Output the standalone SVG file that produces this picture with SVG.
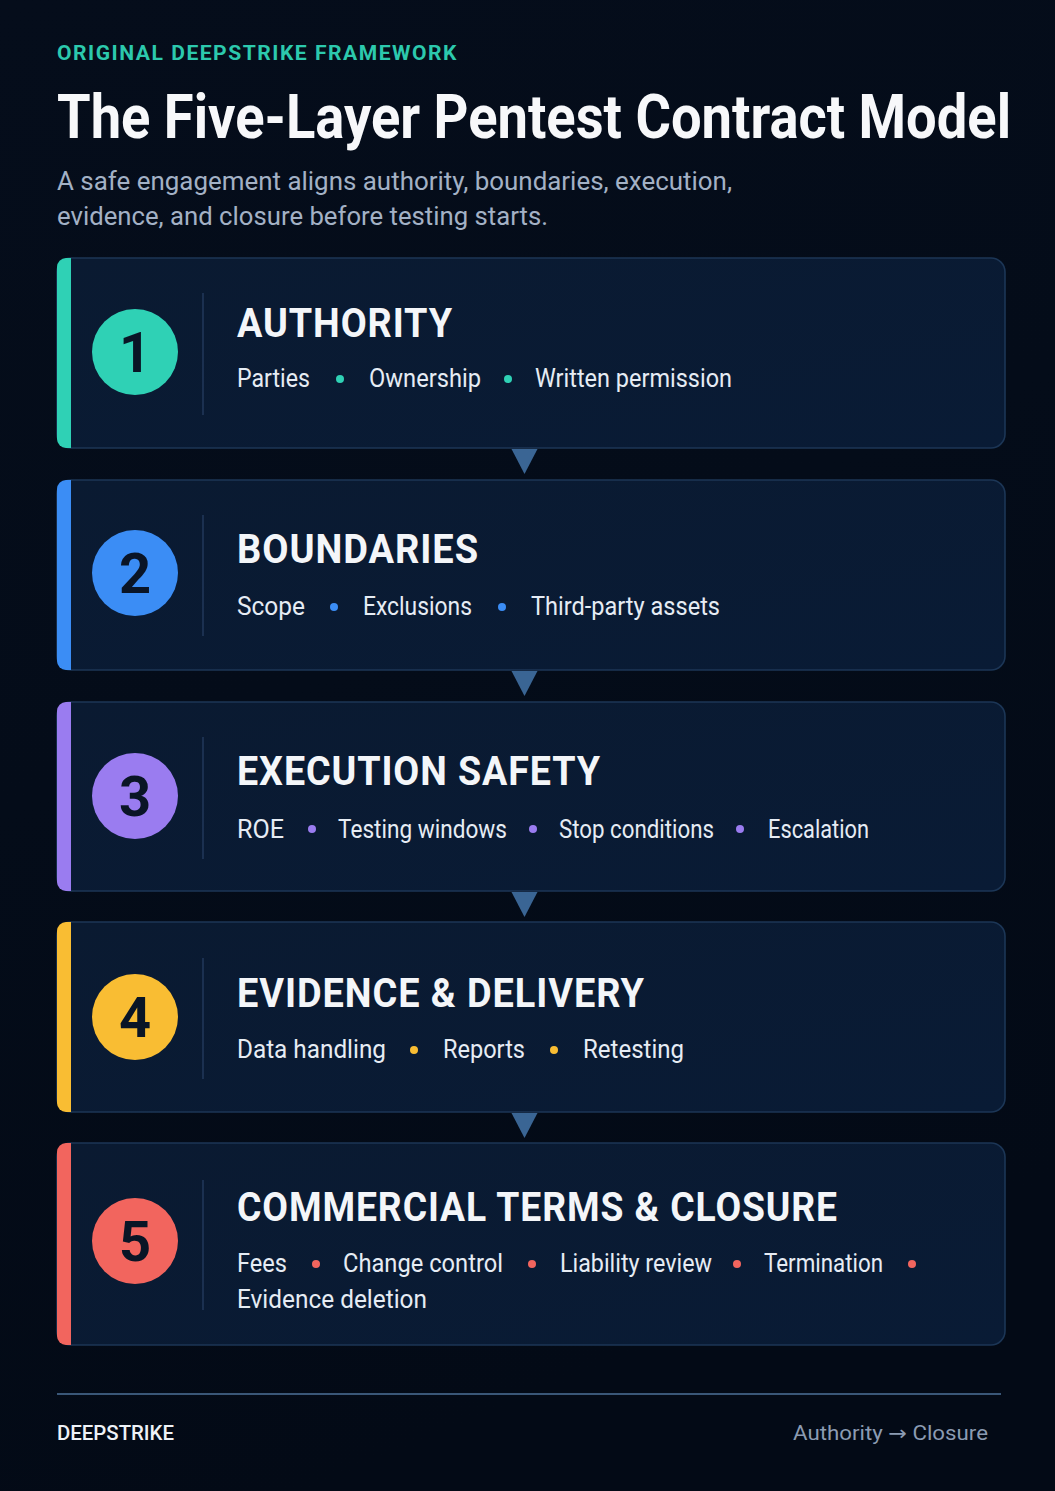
<svg xmlns="http://www.w3.org/2000/svg" width="1055" height="1491" viewBox="0 0 1055 1491">
<defs>
<linearGradient id="bg" x1="0" y1="0" x2="0.3" y2="1">
<stop offset="0" stop-color="#050d1b"/>
<stop offset="0.5" stop-color="#040c19"/>
<stop offset="1" stop-color="#030a16"/>
</linearGradient>
<linearGradient id="card" x1="0" y1="0" x2="1" y2="1">
<stop offset="0" stop-color="#0a1a31"/>
<stop offset="1" stop-color="#091b35"/>
</linearGradient>
<style>
.card{fill:url(#card);stroke:#1c3656;stroke-width:1.6}
.div{stroke:#22395b;stroke-width:1.5}
.num{font-family:Roboto,"Liberation Sans",sans-serif;font-weight:700;font-size:56px;fill:#0a1526;text-anchor:middle}
.ttl{font-family:Roboto,"Liberation Sans",sans-serif;font-weight:700;font-size:41px;fill:#f4f6f9;letter-spacing:1px}
.itm{font-family:Roboto,"Liberation Sans",sans-serif;font-size:25px;fill:#e6ecf4}
.arr{fill:#3a6594}
</style>
</defs>
<rect x="0" y="0" width="1055" height="1491" fill="url(#bg)"/>

<g id="header">
<text x="57" y="60" font-family="Roboto,'Liberation Sans',sans-serif" font-weight="700" font-size="21" fill="#2cc9ad" letter-spacing="1.5" textLength="401" lengthAdjust="spacingAndGlyphs">ORIGINAL DEEPSTRIKE FRAMEWORK</text>
<text transform="translate(57,138) scale(0.885,1)" x="0" y="0" font-family="Roboto,'Liberation Sans',sans-serif" font-weight="700" font-size="62" fill="#f7f8fa" textLength="1078" lengthAdjust="spacingAndGlyphs">The Five-Layer Pentest Contract Model</text>
<text x="57" y="190" font-family="Roboto,'Liberation Sans',sans-serif" font-size="25.5" fill="#a3b1c5" textLength="675" lengthAdjust="spacingAndGlyphs">A safe engagement aligns authority, boundaries, execution,</text>
<text x="57" y="225" font-family="Roboto,'Liberation Sans',sans-serif" font-size="25.5" fill="#a3b1c5" textLength="491" lengthAdjust="spacingAndGlyphs">evidence, and closure before testing starts.</text>
</g>

<g id="layer1">
<rect class="card" x="57" y="258" width="948" height="190" rx="14"/>
<path d="M71 258 H66 A9 9 0 0 0 57 267 V439 A9 9 0 0 0 66 448 H71 Z" fill="#2fd1b5"/>
<circle cx="135" cy="352" r="43" fill="#2fd1b5"/>
<text class="num" x="135" y="372">1</text>
<line class="div" x1="203" y1="293" x2="203" y2="415"/>
<text class="ttl" x="237" y="337" textLength="216" lengthAdjust="spacingAndGlyphs">AUTHORITY</text>
<text class="itm" x="237" y="387" textLength="73" lengthAdjust="spacingAndGlyphs">Parties</text>
<circle cx="340" cy="379" r="4" fill="#2fd1b5"/>
<text class="itm" x="369" y="387" textLength="112" lengthAdjust="spacingAndGlyphs">Ownership</text>
<circle cx="508" cy="379" r="4" fill="#2fd1b5"/>
<text class="itm" x="535" y="387" textLength="197" lengthAdjust="spacingAndGlyphs">Written permission</text>
</g>

<g id="layer2">
<rect class="card" x="57" y="480" width="948" height="190" rx="14"/>
<path d="M71 480 H66 A9 9 0 0 0 57 489 V661 A9 9 0 0 0 66 670 H71 Z" fill="#3b8df5"/>
<circle cx="135" cy="573" r="43" fill="#3b8df5"/>
<text class="num" x="135" y="593">2</text>
<line class="div" x1="203" y1="515" x2="203" y2="636"/>
<text class="ttl" x="237" y="563" textLength="242" lengthAdjust="spacingAndGlyphs">BOUNDARIES</text>
<text class="itm" x="237" y="615" textLength="68" lengthAdjust="spacingAndGlyphs">Scope</text>
<circle cx="334" cy="607" r="4" fill="#3b8df5"/>
<text class="itm" x="363" y="615" textLength="109" lengthAdjust="spacingAndGlyphs">Exclusions</text>
<circle cx="502" cy="607" r="4" fill="#3b8df5"/>
<text class="itm" x="531" y="615" textLength="189" lengthAdjust="spacingAndGlyphs">Third-party assets</text>
</g>

<g id="layer3">
<rect class="card" x="57" y="702" width="948" height="189" rx="14"/>
<path d="M71 702 H66 A9 9 0 0 0 57 711 V882 A9 9 0 0 0 66 891 H71 Z" fill="#9a7cf0"/>
<circle cx="135" cy="796" r="43" fill="#9a7cf0"/>
<text class="num" x="135" y="816">3</text>
<line class="div" x1="203" y1="737" x2="203" y2="859"/>
<text class="ttl" x="237" y="785" textLength="364" lengthAdjust="spacingAndGlyphs">EXECUTION SAFETY</text>
<text class="itm" x="237" y="838" textLength="47" lengthAdjust="spacingAndGlyphs">ROE</text>
<circle cx="312" cy="829" r="4" fill="#9a7cf0"/>
<text class="itm" x="338" y="838" textLength="169" lengthAdjust="spacingAndGlyphs">Testing windows</text>
<circle cx="533" cy="829" r="4" fill="#9a7cf0"/>
<text class="itm" x="559" y="838" textLength="155" lengthAdjust="spacingAndGlyphs">Stop conditions</text>
<circle cx="740" cy="829" r="4" fill="#9a7cf0"/>
<text class="itm" x="768" y="838" textLength="101" lengthAdjust="spacingAndGlyphs">Escalation</text>
</g>

<g id="layer4">
<rect class="card" x="57" y="922" width="948" height="190" rx="14"/>
<path d="M71 922 H66 A9 9 0 0 0 57 931 V1103 A9 9 0 0 0 66 1112 H71 Z" fill="#f9bd33"/>
<circle cx="135" cy="1017" r="43" fill="#f9bd33"/>
<text class="num" x="135" y="1037">4</text>
<line class="div" x1="203" y1="958" x2="203" y2="1079"/>
<text class="ttl" x="237" y="1007" textLength="408" lengthAdjust="spacingAndGlyphs">EVIDENCE &amp; DELIVERY</text>
<text class="itm" x="237" y="1058" textLength="149" lengthAdjust="spacingAndGlyphs">Data handling</text>
<circle cx="414" cy="1050" r="4" fill="#f9bd33"/>
<text class="itm" x="443" y="1058" textLength="82" lengthAdjust="spacingAndGlyphs">Reports</text>
<circle cx="554" cy="1050" r="4" fill="#f9bd33"/>
<text class="itm" x="583" y="1058" textLength="101" lengthAdjust="spacingAndGlyphs">Retesting</text>
</g>

<g id="layer5">
<rect class="card" x="57" y="1143" width="948" height="202" rx="14"/>
<path d="M71 1143 H66 A9 9 0 0 0 57 1152 V1336 A9 9 0 0 0 66 1345 H71 Z" fill="#f2655e"/>
<circle cx="135" cy="1241" r="43" fill="#f2655e"/>
<text class="num" x="135" y="1261">5</text>
<line class="div" x1="203" y1="1180" x2="203" y2="1310"/>
<text class="ttl" x="237" y="1221" textLength="601" lengthAdjust="spacingAndGlyphs">COMMERCIAL TERMS &amp; CLOSURE</text>
<text class="itm" x="237" y="1272" textLength="50" lengthAdjust="spacingAndGlyphs">Fees</text>
<circle cx="316" cy="1264" r="4" fill="#f2655e"/>
<text class="itm" x="343" y="1272" textLength="160" lengthAdjust="spacingAndGlyphs">Change control</text>
<circle cx="532" cy="1264" r="4" fill="#f2655e"/>
<text class="itm" x="560" y="1272" textLength="152" lengthAdjust="spacingAndGlyphs">Liability review</text>
<circle cx="737" cy="1264" r="4" fill="#f2655e"/>
<text class="itm" x="764" y="1272" textLength="119" lengthAdjust="spacingAndGlyphs">Termination</text>
<circle cx="912" cy="1264" r="4" fill="#f2655e"/>
<text class="itm" x="237" y="1308" textLength="190" lengthAdjust="spacingAndGlyphs">Evidence deletion</text>
</g>

<g id="connectors">
<polygon class="arr" points="511.5,449 537.5,449 524.5,474"/>
<polygon class="arr" points="511.5,671 537.5,671 524.5,696"/>
<polygon class="arr" points="511.5,892 537.5,892 524.5,917"/>
<polygon class="arr" points="511.5,1113 537.5,1113 524.5,1138"/>
</g>

<g id="footer">
<line x1="57" y1="1394" x2="1001" y2="1394" stroke="#3a5778" stroke-width="2"/>
<text x="57" y="1440" font-family="Roboto,'Liberation Sans',sans-serif" font-weight="500" font-size="20" fill="#eef2f7" textLength="117" lengthAdjust="spacingAndGlyphs">DEEPSTRIKE</text>
<text x="793" y="1440" font-family="Roboto,'DejaVu Sans',sans-serif" font-size="20.5" fill="#8b9bb2" textLength="195" lengthAdjust="spacingAndGlyphs">Authority → Closure</text>
</g>
</svg>
